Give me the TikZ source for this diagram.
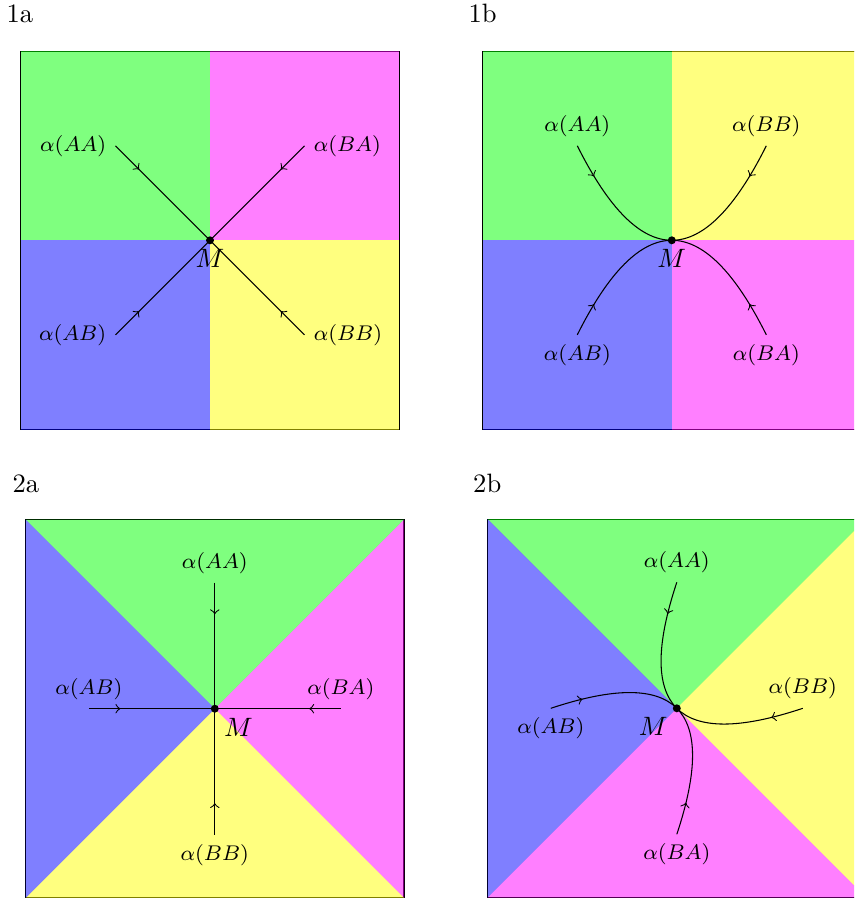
\documentclass[tikz,border=0pt]{standalone}
\usetikzlibrary{decorations.markings}
\definecolor{pgreen}{rgb}{0,1,0}
\definecolor{pmag}{rgb}{1,0,1}
\definecolor{pblue}{rgb}{0,0,1}
\definecolor{pyel}{rgb}{1,1,0}
\tikzset{
  flow/.style={postaction={decorate},decoration={markings,mark=at position 0.25 with {\arrow{>}}}},
  lab/.style={font=\footnotesize},
  dotM/.style={circle,fill=black,inner sep=0pt,minimum size=3pt},
  panel/.style={anchor=base west,inner sep=0pt},
  reg/.style={fill opacity=0.5},
  frame/.style={draw=black,line width=0.4pt},
}
\begin{document}
\begin{tikzpicture}[x=0.013228cm,y=-0.013228cm]
\useasboundingbox (0,0) rectangle (854,899);
\clip (0,0) rectangle (854,899);
\fill[white] (0,0) rectangle (854,899);

% ---------- 1a ----------
\node[panel] (t1a) at (6,23) {1a};
\begin{scope}[shift={(210,240.3)}]
  \draw[frame] (-189.2,-189.2) rectangle (189.2,189.2);
  \fill[pgreen,reg] (-189.2,-189.2) rectangle (0,0);
  \fill[pmag,reg] (0,-189.2) rectangle (189.2,0);
  \fill[pblue,reg] (-189.2,0) rectangle (0,189.2);
  \fill[pyel,reg] (0,0) rectangle (189.2,189.2);
  \coordinate (M1) at (0,0);
  \node[lab,left]  (aa1) at (-94.5,-94.5) {$\alpha(AA)$};
  \node[lab,right] (ba1) at (94.5,-94.5) {$\alpha(BA)$};
  \node[lab,left]  (ab1) at (-94.5,94.5) {$\alpha(AB)$};
  \node[lab,right] (bb1) at (94.5,94.5) {$\alpha(BB)$};
  \draw[flow] (aa1.east) -- (M1);
  \draw[flow] (ba1.west) -- (M1);
  \draw[flow] (ab1.east) -- (M1);
  \draw[flow] (bb1.west) -- (M1);
  \node[dotM] (d1) at (M1) {};
  \node[below] (m1) at (M1) {$M$};
\end{scope}

% ---------- 1b ----------
\node[panel] (t1b) at (468,23) {1b};
\begin{scope}[shift={(671.8,240.3)}]
  \draw[frame] (-189.2,-189.2) rectangle (189.2,189.2);
  \fill[pgreen,reg] (-189.2,-189.2) rectangle (0,0);
  \fill[pyel,reg] (0,-189.2) rectangle (189.2,0);
  \fill[pblue,reg] (-189.2,0) rectangle (0,189.2);
  \fill[pmag,reg] (0,0) rectangle (189.2,189.2);
  \coordinate (M2) at (0,0);
  \node[lab,above] (aa2) at (-94.5,-94.5) {$\alpha(AA)$};
  \node[lab,above] (bb2) at (94.5,-94.5) {$\alpha(BB)$};
  \node[lab,below] (ab2) at (-94.5,94.5) {$\alpha(AB)$};
  \node[lab,below] (ba2) at (94.5,94.5) {$\alpha(BA)$};
  \draw[flow] (aa2.south) .. controls (-63,-31.5) and (-31.5,0) .. (M2);
  \draw[flow] (bb2.south) .. controls (63,-31.5) and (31.5,0) .. (M2);
  \draw[flow] (ab2.north) .. controls (-63,31.5) and (-31.5,0) .. (M2);
  \draw[flow] (ba2.north) .. controls (63,31.5) and (31.5,0) .. (M2);
  \node[dotM] (d2) at (M2) {};
  \node[below] (m2) at (M2) {$M$};
\end{scope}

% ---------- 2a ----------
\node[panel] (t2a) at (12,492) {2a};
\begin{scope}[shift={(214.8,708.7)}]
  \draw[frame] (-189.2,-189.2) rectangle (189.2,189.2);
  \fill[pgreen,reg] (-189.2,-189.2) -- (189.2,-189.2) -- (0,0) -- cycle;
  \fill[pmag,reg] (189.2,-189.2) -- (189.2,189.2) -- (0,0) -- cycle;
  \fill[pyel,reg] (189.2,189.2) -- (-189.2,189.2) -- (0,0) -- cycle;
  \fill[pblue,reg] (-189.2,189.2) -- (-189.2,-189.2) -- (0,0) -- cycle;
  \coordinate (M3) at (0,0);
  \node[lab,above] (aa3) at (0,-126) {$\alpha(AA)$};
  \node[lab,below] (bb3) at (0,126) {$\alpha(BB)$};
  \node[lab,above] (ab3) at (-126,0) {$\alpha(AB)$};
  \node[lab,above] (ba3) at (126,0) {$\alpha(BA)$};
  \draw[flow] (aa3.south) -- (M3);
  \draw[flow] (bb3.north) -- (M3);
  \draw[flow] (ab3.south) -- (M3);
  \draw[flow] (ba3.south) -- (M3);
  \node[dotM] (d3) at (M3) {};
  \node[below right] (m3) at (M3) {$M$};
\end{scope}

% ---------- 2b ----------
\node[panel] (t2b) at (472.7,492) {2b};
\begin{scope}[shift={(676.8,708.3)}]
  \draw[frame] (-189.2,-189.2) rectangle (189.2,189.2);
  \fill[pgreen,reg] (-189.2,-189.2) -- (189.2,-189.2) -- (0,0) -- cycle;
  \fill[pyel,reg] (189.2,-189.2) -- (189.2,189.2) -- (0,0) -- cycle;
  \fill[pmag,reg] (189.2,189.2) -- (-189.2,189.2) -- (0,0) -- cycle;
  \fill[pblue,reg] (-189.2,189.2) -- (-189.2,-189.2) -- (0,0) -- cycle;
  \coordinate (M4) at (0,0);
  \node[lab,above] (aa4) at (0,-126) {$\alpha(AA)$};
  \node[lab,below] (ba4) at (0,126) {$\alpha(BA)$};
  \node[lab,below] (ab4) at (-126,0) {$\alpha(AB)$};
  \node[lab,above] (bb4) at (126,0) {$\alpha(BB)$};
  \draw[flow] (aa4.south) .. controls (-21,-63) and (-21,-21) .. (M4);
  \draw[flow] (ab4.north) .. controls (-63,-21) and (-21,-21) .. (M4);
  \draw[flow] (bb4.south) .. controls (63,21) and (21,21) .. (M4);
  \draw[flow] (ba4.north) .. controls (21,63) and (21,21) .. (M4);
  \node[dotM] (d4) at (M4) {};
  \node[below left] (m4) at (M4) {$M$};
\end{scope}
\end{tikzpicture}
\end{document}
